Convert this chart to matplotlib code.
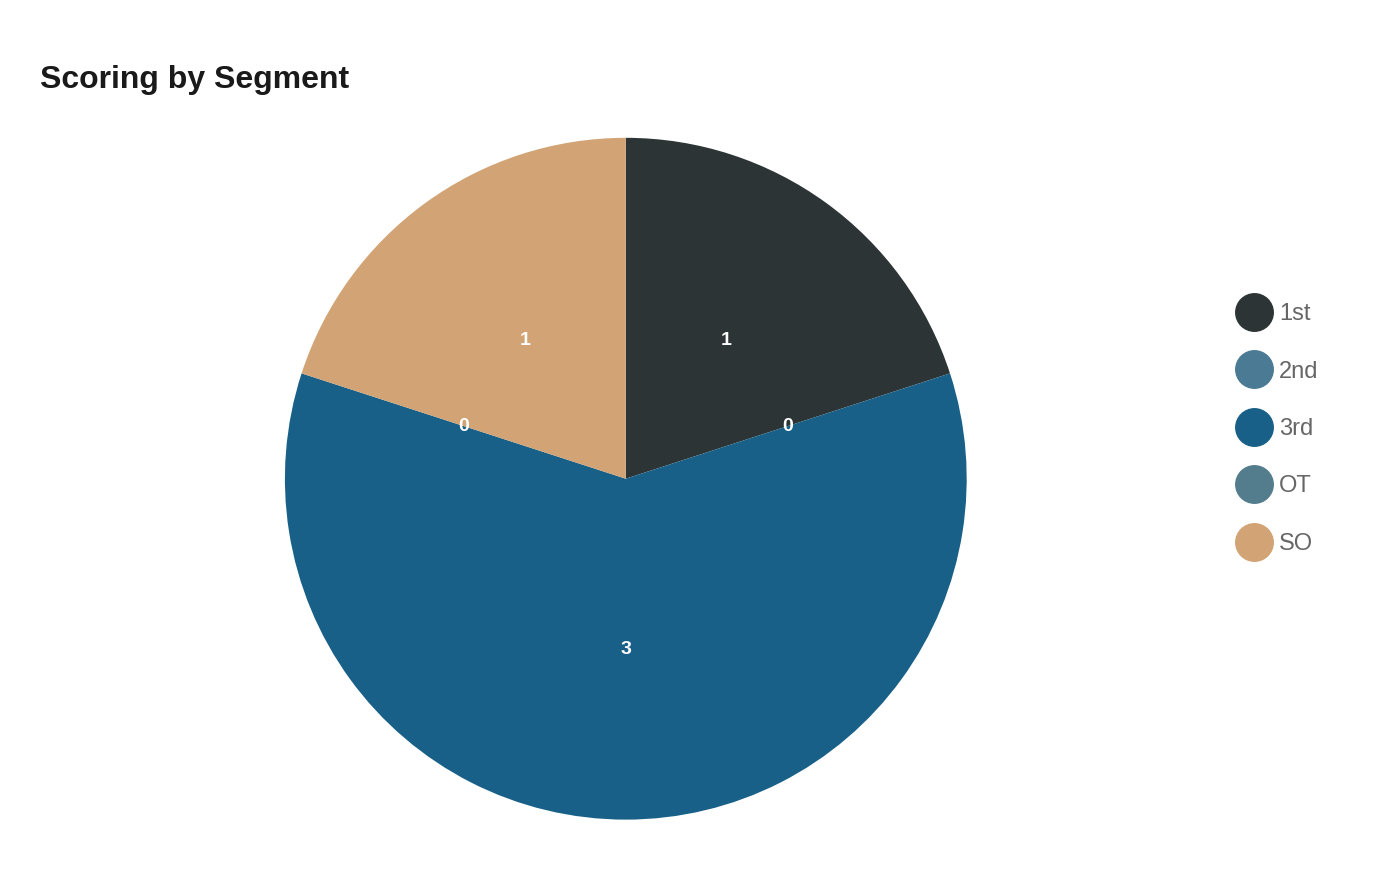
import matplotlib
matplotlib.use("Agg")
import matplotlib.pyplot as plt
from matplotlib.lines import Line2D

categories = ["1st", "2nd", "3rd", "OT", "SO"]
values = [1, 0, 3, 0, 1]
colors = ["#2d3436", "#4a7a94", "#186087", "#537d8d", "#d2a374"]

plt.rcParams['font.family'] = ['Liberation Sans', 'DejaVu Sans']
fig = plt.figure(figsize=(14, 8.8), dpi=100)
ax = fig.add_axes([0.2035, 0.0685, 0.487, 0.775])
total = sum(values)
wedges, texts, autotexts = ax.pie(
    values, colors=colors, startangle=90, counterclock=False,
    autopct=lambda p: f"{round(p * total / 100)}", pctdistance=0.5,
    textprops=dict(color="white", fontsize=14, fontweight="bold"))
ax.set_xlim(-1, 1)
ax.set_ylim(-1, 1)
ax.set_aspect("equal")

fig.text(40/1400, 1 - 80/880, "Scoring by Segment", fontsize=23, fontweight="bold",
         color="#1a1a1a", va="center", ha="left")

handles = [Line2D([], [], marker="o", linestyle="none", markersize=27,
                  markerfacecolor=c, markeredgecolor=c) for c in colors]
leg = fig.legend(handles, categories, loc="center left",
                 bbox_to_anchor=(1214/1400, 1 - 429/880), frameon=False,
                 fontsize=17, labelspacing=1.5, handletextpad=0.25, handlelength=1.6)
for t in leg.get_texts():
    t.set_color("#666666")

fig.savefig("out.png", dpi=100)
